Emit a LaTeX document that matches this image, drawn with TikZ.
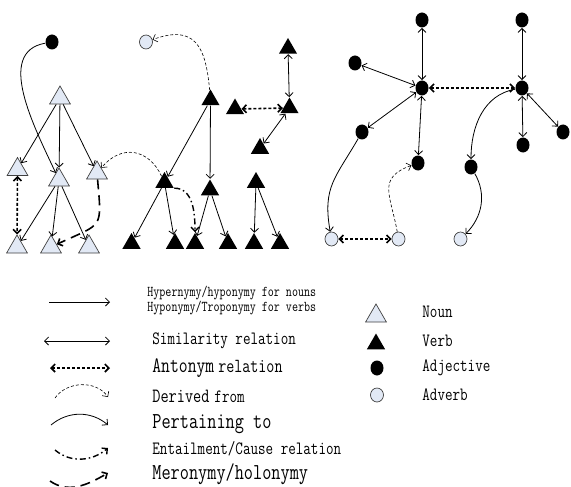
\documentclass[tikz,border=0pt]{standalone}
\usepackage{fontspec}
\setmainfont{Latin Modern Mono}[FakeStretch=0.78]
\usetikzlibrary{arrows.meta,shapes.geometric}
\definecolor{paleblue}{RGB}{226,233,245}
\newcommand{\legsmall}{\fontsize{15}{15.5}\selectfont}
\newcommand{\legmid}{\fontsize{18.8}{20}\selectfont}
\newcommand{\legbig}{\fontsize{22.8}{24}\selectfont}

\begin{document}
\begin{tikzpicture}[x=1pt,y=1pt,>={Straight Barb[length=4pt,width=8pt]},line width=0.8pt,
  noun/.style={regular polygon,regular polygon sides=3,draw=black!75,line width=0.7pt,fill=paleblue,minimum size=24pt,inner sep=0pt},
  verb/.style={regular polygon,regular polygon sides=3,fill=black,minimum size=21pt,inner sep=0pt},
  adj/.style={ellipse,fill=black,minimum width=13pt,minimum height=15pt,inner sep=0pt},
  adv/.style={ellipse,draw=black!75,line width=0.7pt,fill=paleblue,minimum width=13pt,minimum height=14pt,inner sep=0pt}]
    \useasboundingbox (0,0) rectangle (571,-487);

    % nouns
    \node[noun] (N0) at (60,-98)    {};
    \node[noun] (N1) at (17.5,-169.5) {};
    \node[noun] (N2) at (59,-180)   {};
    \node[noun] (N3) at (97,-173)   {};
    \node[noun] (N4) at (17,-247)   {};
    \node[noun] (N5) at (51,-247)   {};
    \node[noun] (N6) at (89,-247)   {};
    % verbs
    \node[verb] (V0) at (210.5,-100) {};
    \node[verb] (V1) at (164.5,-182.5) {};
    \node[verb] (V2) at (210,-190)  {};
    \node[verb] (V3) at (256,-182.5) {};
    \node[verb] (B1) at (131.5,-243.5) {};
    \node[verb] (B2) at (175,-243.5) {};
    \node[verb] (B3) at (195,-243.5) {};
    \node[verb] (B4) at (228,-243.5) {};
    \node[verb] (B5) at (254,-243.5) {};
    \node[verb] (B6) at (280,-243.5) {};
    \node[verb] (VL) at (235,-109)  {};
    \node[verb] (VH) at (289.5,-108) {};
    \node[verb] (VT) at (288,-48.5) {};
    \node[verb] (VB) at (260,-148.5) {};
    % adjectives and adverbs
    \node[adj] (A0) at (52,-42)    {};
    \node[adv] (D0) at (146,-42)   {};
    \node[adj] (H1) at (422,-88)   {};
    \node[adj] (H2) at (522,-88)   {};
    \node[adj] (T1) at (422,-20)   {};
    \node[adj] (T2) at (522,-20)   {};
    \node[adj] (S1) at (355,-63)   {};
    \node[adj] (S2) at (362,-132)  {};
    \node[adj] (S3) at (418,-163)  {};
    \node[adj] (S4) at (523,-145)  {};
    \node[adj] (S5) at (563,-132)  {};
    \node[adj] (S6) at (471,-167)  {};
    \node[adv] (D1) at (331.5,-239) {};
    \node[adv] (D2) at (398.5,-239) {};
    \node[adv] (D3) at (460.5,-239) {};

    \tikzset{hyp/.style={->}}
    \tikzset{simi/.style={<->}}
    \tikzset{anto/.style={<->,line width=1.6pt,dash pattern=on 3pt off 2pt}}
    \tikzset{deriv/.style={->,line width=0.6pt,dash pattern=on 3pt off 2pt}}
    \tikzset{pert/.style={->}}
    \tikzset{entail/.style={->,line width=1.4pt,dash pattern=on 6pt off 3pt on 1.5pt off 3pt}}
    \tikzset{mero/.style={->,line width=1.6pt,dash pattern=on 10pt off 6pt}}

    \path (N0) edge [hyp] (N1)
      (N0) edge [hyp] (N2)
      (N0) edge [hyp] (N3)
      (N2) edge [hyp] (N4)
      (N2) edge [hyp] (N5)
      (N2) edge [hyp] (N6)
      (N1) edge [anto] (N4)
      (N3) edge [mero,out=-85,in=25,looseness=1.7] (N5)
      (A0) edge [pert,out=190,in=115] (N2);
    \path (V0) edge [hyp] (V1)
      (V0) edge [hyp] (V2)
      (V1) edge [hyp] (B1)
      (V1) edge [hyp] (B2)
      (V2) edge [hyp] (B3)
      (V2) edge [hyp] (B4)
      (V3) edge [hyp] (B5)
      (V3) edge [hyp] (B6)
      (VL) edge [anto] (VH)
      (VH) edge [simi] (VT)
      (VH) edge [simi] (VB)
      (V0) edge [deriv,out=95,in=20,looseness=1.5] (D0)
      (V1) edge [deriv,out=115,in=50,looseness=1.3] (N3)
      (V1.corner 3) edge [entail,out=0,in=90] (B3);
    \path (H1) edge [simi] (T1)
      (H1) edge [simi] (S1)
      (H1) edge [simi] (S2)
      (H1) edge [simi] (S3)
      (H2) edge [simi] (T2)
      (H2) edge [simi] (S4)
      (H2) edge [simi] (S5)
      (H1) edge [anto] (H2)
      (D1) edge [anto] (D2)
      (S2) edge [pert,out=240,in=100,looseness=1.2] (D1)
      (D2) edge [deriv,out=100,in=200,looseness=1.4] (S3)
      (H2) edge [pert,out=190,in=90] (S6)
      (S6) edge [pert,out=-60,in=45] (D3);

    % legend
    \coordinate (L1a) at (49,-302);  \coordinate (L1b) at (110,-302);
    \coordinate (L2a) at (44,-341);  \coordinate (L2b) at (110,-341);
    \coordinate (L3a) at (50,-368);  \coordinate (L3b) at (110,-368);
    \coordinate (L4a) at (55,-398);  \coordinate (L4b) at (108,-397);
    \coordinate (L5a) at (51,-425);  \coordinate (L5b) at (108,-425);
    \coordinate (L6a) at (55,-450);  \coordinate (L6b) at (108,-448);
    \coordinate (L7a) at (50,-481);  \coordinate (L7b) at (108,-473);
    \path (L1a) edge [hyp] (L1b)
      (L2a) edge [simi] (L2b)
      (L3a) edge [anto] (L3b)
      (L4a) edge [deriv,out=55,in=125] (L4b)
      (L5a) edge [pert,out=40,in=140] (L5b)
      (L6a) edge [entail,out=-40,in=-140] (L6b)
      (L7a) edge [mero,out=-35,in=-150] (L7b);

    \node[anchor=west,inner sep=0pt,align=left,font=\legsmall] (txhyp) at (147,-300.5)
      {Hypernymy/hyponymy for nouns\\Hyponymy/Troponymy for verbs};
    \node[anchor=west,inner sep=0pt,font=\legmid] (txsim) at (152,-341) {Similarity relation};
    \node[anchor=west,inner sep=0pt] (txant) at (152,-368) {{\fontsize{22}{24}\selectfont Antonym}\hspace{4pt}{\fontsize{20}{22}\selectfont relation}};
    \node[anchor=west,inner sep=0pt] (txder) at (152,-396) {{\fontsize{20.3}{22}\selectfont Derived}\hspace{5pt}{\fontsize{18.8}{20}\selectfont from}};
    \node[anchor=west,inner sep=0pt,font=\legbig] (txper) at (152,-424) {Pertaining to};
    \node[anchor=west,inner sep=0pt,font=\legmid] (txent) at (152,-449) {Entailment/Cause relation};
    \node[anchor=west,inner sep=0pt,font=\legbig] (txmer) at (152,-474) {Meronymy/holonymy};

    \node[noun] (kN) at (376,-316) {};
    \node[verb] (kV) at (376,-344) {};
    \node[adj]  (kA) at (377,-368) {};
    \node[adv]  (kD) at (377,-395) {};
    \node[anchor=west,inner sep=0pt,font=\legmid] (txN) at (422,-312) {Noun};
    \node[anchor=west,inner sep=0pt,font=\legmid] (txV) at (422,-341) {Verb};
    \node[anchor=west,inner sep=0pt,font=\legmid] (txA) at (422,-368) {Adjective};
    \node[anchor=west,inner sep=0pt,font=\legmid] (txD) at (422,-395) {Adverb};
\end{tikzpicture}
\end{document}
